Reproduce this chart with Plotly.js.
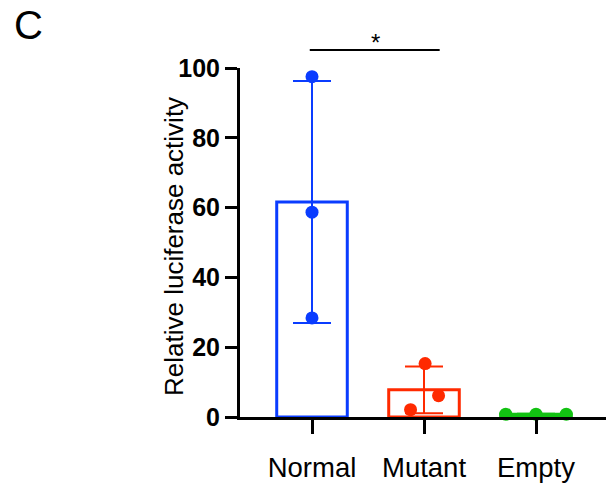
<!DOCTYPE html>
<html>
<head>
<meta charset="utf-8">
<script src="https://cdn.plot.ly/plotly-3.0.1.min.js"></script>
<style>html,body{margin:0;padding:0;background:#fff;}#chart{width:606px;height:485px;}</style>
</head>
<body>
<div id="chart"></div>
<script>
// ---- data ----
const categories = ['Normal', 'Mutant', 'Empty'];
const barMeans = [61.6, 7.8, 0.8];
const barSD = [34.7, 6.7, 0.1];
const normalPoints = [97.5, 58.7, 28.4];
const mutantPoints = [15.3, 6.1, 2.1];
const emptyPoints = [0.8, 0.8, 0.8];
const yTickValues = [0, 20, 40, 60, 80, 100];
const yAxisTitle = 'Relative luciferase activity';
const panelLabel = 'C';
const sigLabel = '*';

// ---- styling ----
const colors = ['#0A3CFF', '#FF2A00', '#12C212'];
const pointOffsets = [[0, 0, 0], [0.01, 0.13, -0.12], [-0.27, 0, 0.27]];
const groupPoints = [normalPoints, mutantPoints, emptyPoints];
const FONT = 'Arial, "Liberation Sans", Helvetica, sans-serif';

const traces = [];
categories.forEach((cat, i) => {
  traces.push({
    type: 'bar',
    x: [i],
    y: [barMeans[i]],
    width: 0.63,
    marker: {color: 'rgba(255,255,255,0)', line: {color: colors[i], width: 3}},
    error_y: {type: 'data', array: [barSD[i]], visible: true, color: colors[i], thickness: 2, width: 19},
    hoverinfo: 'skip',
    showlegend: false,
    name: cat
  });
});
categories.forEach((cat, i) => {
  traces.push({
    type: 'scatter',
    mode: 'markers',
    x: groupPoints[i].map((v, k) => i + pointOffsets[i][k]),
    y: groupPoints[i],
    marker: {color: colors[i], size: 13},
    cliponaxis: false,
    hoverinfo: 'skip',
    showlegend: false,
    name: cat
  });
});

const L = 240, T = 68, B = 68, W = 606, H = 485;
const plotW = W - L, plotH = H - T - B;
const pxPerCat = 112;
const x0 = -(312 - L) / pxPerCat;
const sigFrom = categories.indexOf('Normal');
const sigTo = categories.indexOf('Mutant');

const layout = {
  width: W, height: H,
  margin: {l: L, r: 0, t: T, b: B, pad: 0},
  paper_bgcolor: '#fff', plot_bgcolor: '#fff',
  font: {family: FONT, color: '#000'},
  bargap: 0,
  xaxis: {
    range: [x0, x0 + plotW / pxPerCat],
    tickmode: 'array', tickvals: categories.map((c, i) => i), ticktext: categories,
    showgrid: false, zeroline: false,
    showline: true, linecolor: '#000', linewidth: 3,
    ticks: 'outside', ticklen: 14, tickwidth: 3, tickcolor: '#000',
    ticklabelstandoff: 10,
    tickfont: {family: FONT, size: 27.5, color: '#000'},
    fixedrange: true
  },
  yaxis: {
    range: [0, 100],
    tickmode: 'array', tickvals: yTickValues,
    showgrid: false, zeroline: false,
    showline: true, linecolor: '#000', linewidth: 3,
    ticks: 'outside', ticklen: 12, tickwidth: 3, tickcolor: '#000',
    tickfont: {family: FONT, size: 25, color: '#000', weight: 'bold'},
    automargin: false,
    fixedrange: true
  },
  shapes: [{
    type: 'line', xref: 'x', yref: 'paper',
    x0: sigFrom - 0.02, x1: sigTo + 0.14,
    y0: (417 - 50) / plotH, y1: (417 - 50) / plotH,
    line: {color: '#000', width: 2}
  }],
  annotations: [
    {text: yAxisTitle, xref: 'paper', yref: 'paper', x: (174 - L) / plotW, y: (417 - 247) / plotH,
     xanchor: 'center', yanchor: 'middle', textangle: -90, showarrow: false,
     font: {family: FONT, size: 26, color: '#000'}},
    {text: sigLabel, xref: 'x', yref: 'paper', x: 0.57, y: (417 - 43) / plotH,
     xanchor: 'center', yanchor: 'middle', showarrow: false,
     font: {family: FONT, size: 24, color: '#000'}},
    {text: panelLabel, xref: 'paper', yref: 'paper', x: (12 - L) / plotW, y: (417 - 24.6) / plotH,
     xanchor: 'left', yanchor: 'middle', showarrow: false,
     font: {family: FONT, size: 40, color: '#000'}}
  ]
};

Plotly.newPlot('chart', traces, layout, {staticPlot: true, displayModeBar: false});
</script>
</body>
</html>
